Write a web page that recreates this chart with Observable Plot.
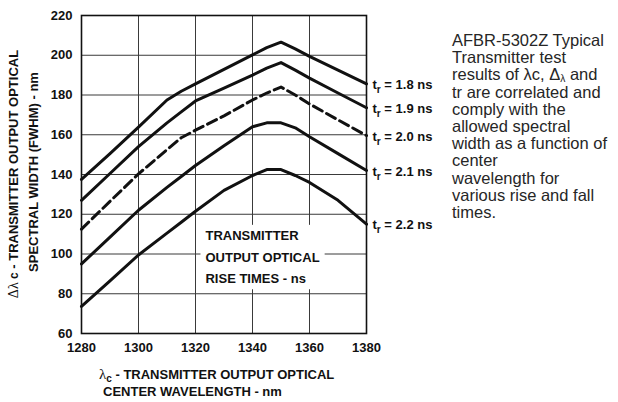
<!DOCTYPE html>
<html>
<head>
<meta charset="utf-8">
<script src="https://cdn.jsdelivr.net/npm/d3@7"></script>
<script src="https://cdn.jsdelivr.net/npm/@observablehq/plot@0.6"></script>
<style>
  body { margin: 0; background: #fff; }
  #wrap { position: relative; width: 618px; height: 402px; overflow: hidden; }
  #note {
    position: absolute; left: 452px; top: 32px;
    font-family: "Liberation Sans", Arial, sans-serif;
    font-size: 16.5px; line-height: 17.2px; color: #262626; white-space: nowrap;
  }
  #note sub { font-size: 62%; vertical-align: -2px; line-height: 0; }
</style>
</head>
<body>
<div id="wrap">
  <div id="note">AFBR-5302Z Typical<br>Transmitter test<br>results of λc, Δ<sub>λ</sub> and<br>tr are correlated and<br>comply with the<br>allowed spectral<br>width as a function of<br>center<br>wavelength for<br>various rise and fall<br>times.</div>
</div>
<script>
// ---- data ----
const wavelength = [1280, 1290, 1300, 1310, 1315, 1320, 1330, 1340, 1345, 1350, 1355, 1360, 1370, 1380];
const riseTimes = ["1.8", "1.9", "2.0", "2.1", "2.2"];
const width18 = [137.5, 150.5, 163.8, 177.5, 181.9, 185.6, 192.9, 200.2, 203.8, 206.6, 203.2, 199.4, 192.5, 185.6];
const width19 = [127.0, 140.5, 154.0, 166.0, 171.5, 177.0, 183.5, 190.0, 193.5, 196.3, 192.5, 188.5, 181.0, 173.6];
const width20 = [112.5, 126.5, 140.3, 152.5, 158.5, 162.3, 169.5, 177.5, 181.0, 184.0, 180.0, 175.5, 167.5, 159.6];
const width21 = [95.0, 108.5, 122.0, 133.5, 139.0, 144.5, 154.5, 164.0, 166.0, 166.0, 163.5, 159.0, 150.5, 142.0];
const width22 = [73.6, 86.5, 99.5, 110.5, 116.0, 121.5, 132.0, 139.5, 142.5, 142.5, 139.5, 136.0, 127.0, 115.0];
const xTicks = [1280, 1300, 1320, 1340, 1360, 1380];
const yTicks = [60, 80, 100, 120, 140, 160, 180, 200, 220];
const legendLines = ["TRANSMITTER", "OUTPUT OPTICAL", "RISE TIMES - ns"];

const seriesValues = [width18, width19, width20, width21, width22];
const rows = riseTimes.flatMap((t, i) => wavelength.map((w, j) => ({t, w, v: seriesValues[i][j]})));
const ends = riseTimes.map((t, i) => ({t, w: wavelength[wavelength.length - 1], v: seriesValues[i][seriesValues[i].length - 1]}));

const boldFont = "'Liberation Sans', Arial, sans-serif";
const ink = "#111";

const plot = Plot.plot({
  width: 618,
  height: 402,
  marginLeft: 81,
  marginRight: 252,
  marginTop: 15,
  marginBottom: 69,
  x: {domain: [1280, 1380]},
  y: {domain: [60, 220]},
  style: {fontFamily: boldFont, fontSize: "13px", fontWeight: "bold", color: ink, background: "white", overflow: "visible"},
  marks: [
    Plot.gridX(xTicks.slice(1, -1), {stroke: "#3a3a3a", strokeOpacity: 1, strokeWidth: 1}),
    Plot.gridY(yTicks.slice(1, -1), {stroke: "#3a3a3a", strokeOpacity: 1, strokeWidth: 1}),
    Plot.axisX(xTicks, {tickSize: 0, tickPadding: 9, tickFormat: "d", label: null}),
    Plot.axisY(yTicks, {tickSize: 0, tickPadding: 9, tickFormat: "d", label: null}),
    Plot.text([legendLines.join("\n")], {
      x: () => 1323.5, y: () => 99.7, text: d => d,
      textAnchor: "start", lineAnchor: "middle", lineHeight: 1.67, fill: ink
    }),
    Plot.line(rows.filter(d => d.t !== "2.0"), {x: "w", y: "v", z: "t", stroke: ink, strokeWidth: 3, strokeLinejoin: "round"}),
    Plot.line(rows.filter(d => d.t === "2.0"), {x: "w", y: "v", stroke: ink, strokeWidth: 3, strokeDasharray: "10,5"}),
    Plot.frame({stroke: ink, strokeWidth: 1.6}),
    Plot.text(ends, {
      x: "w", y: "v", text: d => `t_r = ${d.t} ns`, dx: 6, dy: 1,
      textAnchor: "start", fill: ink
    })
  ]
});

const wrap = document.getElementById("wrap");
wrap.insertBefore(plot, wrap.firstChild);
const svg = d3.select(plot);

// subscripts on curve labels
svg.selectAll("text").filter(function () { return /^t_r/.test(this.textContent); }).each(function () {
  const rest = this.textContent.slice(3);
  const el = d3.select(this);
  el.selectAll("*").remove();
  el.text(null);
  el.append("tspan").text("t");
  el.append("tspan").attr("dy", 4).attr("font-size", "10px").text("r");
  el.append("tspan").attr("dy", -4).text(rest);
});

// white box behind legend text
svg.selectAll("text").filter(function () { return this.textContent.startsWith("TRANSMITTER"); }).each(function () {
  const bb = this.getBBox();
  const pad = 5;
  const r = document.createElementNS("http://www.w3.org/2000/svg", "rect");
  r.setAttribute("x", bb.x - pad);
  r.setAttribute("y", bb.y - pad + 2);
  r.setAttribute("width", bb.width + 2 * pad);
  r.setAttribute("height", bb.height + 2 * pad - 4);
  r.setAttribute("fill", "white");
  const tr = this.getAttribute("transform");
  if (tr) r.setAttribute("transform", tr);
  this.parentNode.insertBefore(r, this);
});

// axis titles
const titles = svg.append("g").attr("font-family", boldFont).attr("font-weight", "bold")
  .attr("fill", ink).attr("font-size", "13px");

const xt1 = titles.append("text").attr("x", 99).attr("y", 379).attr("text-anchor", "start");
xt1.append("tspan").attr("font-family", "'Liberation Serif', serif").attr("font-weight", "normal").attr("font-size", "15px").text("λ");
xt1.append("tspan").attr("dy", 3).attr("font-size", "10px").text("c");
xt1.append("tspan").attr("dy", -3).text(" - TRANSMITTER OUTPUT OPTICAL");
titles.append("text").attr("x", 103).attr("y", 396).attr("text-anchor", "start").text("CENTER WAVELENGTH - nm");

const yt1 = titles.append("text").attr("transform", "translate(18,174) rotate(-90)").attr("text-anchor", "middle");
yt1.append("tspan").attr("font-family", "'Liberation Serif', serif").attr("font-weight", "normal").attr("font-size", "14px").text("Δλ");
yt1.append("tspan").attr("font-size", "12px").text(" c");
yt1.append("tspan").text(" - TRANSMITTER OUTPUT OPTICAL");
titles.append("text").attr("transform", "translate(38,172) rotate(-90)").attr("text-anchor", "middle")
  .text("SPECTRAL WIDTH (FWHM) - nm");
</script>
</body>
</html>
